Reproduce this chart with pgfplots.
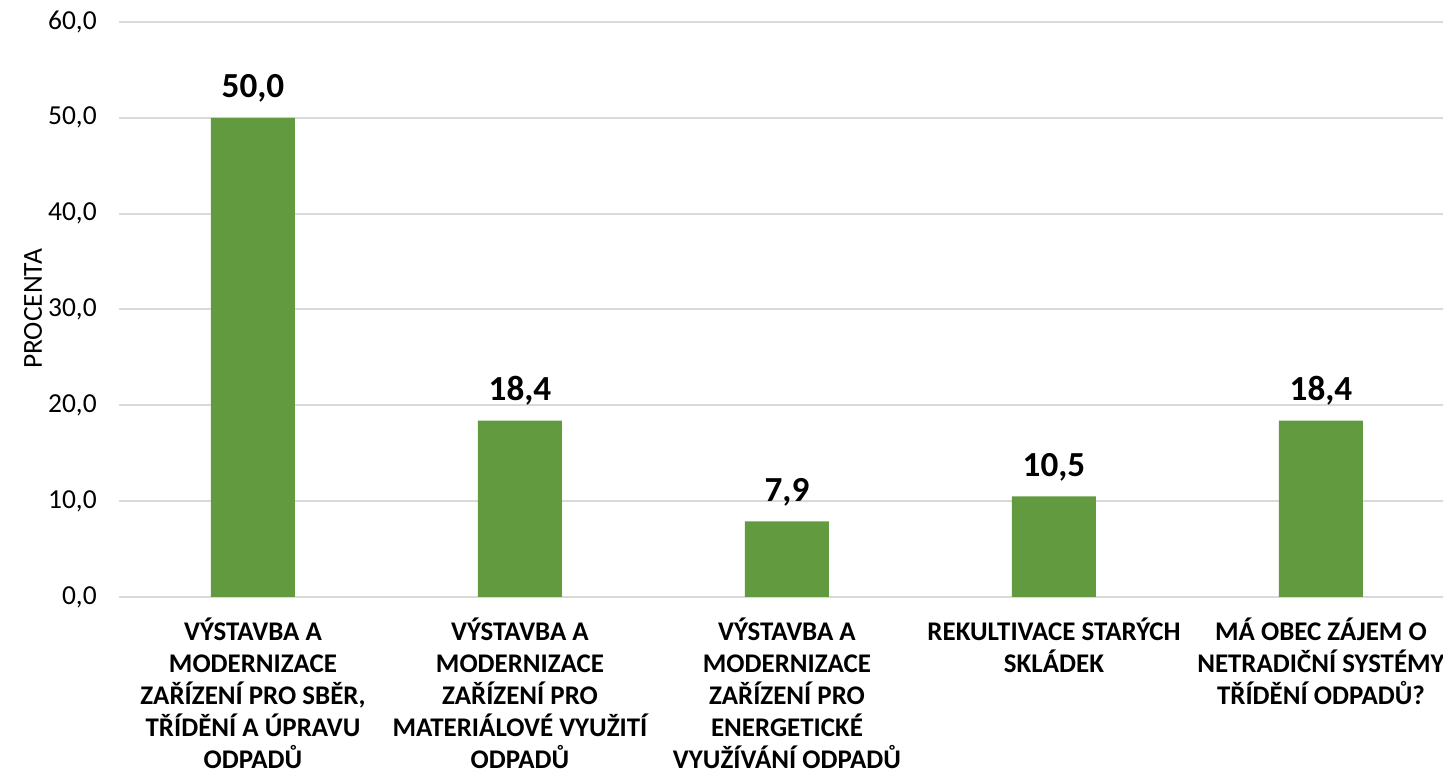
\documentclass[border=0pt]{standalone}
\usepackage{fontspec}
\setmainfont{Carlito}
\usepackage{pgfplots}
\pgfplotsset{compat=1.18}
\definecolor{barc}{RGB}{98,154,64}
\definecolor{gridc}{RGB}{217,217,217}
\begin{document}
\begin{tikzpicture}[x=0.75pt,y=0.75pt]
\begin{axis}[
  at={(89.625pt,135.75pt)}, anchor=south west,
  scale only axis, width=1001.25pt, height=431.25pt,
  xmin=-0.5, xmax=4.5, ymin=0, ymax=60,
  ytick={0,10,...,60},
  xtick={0,1,2,3,4},
  xticklabels={
    {VÝSTAVBA A\\MODERNIZACE\\ZAŘÍZENÍ PRO SBĚR,\\TŘÍDĚNÍ A ÚPRAVU\\ODPADŮ},
    {VÝSTAVBA A\\MODERNIZACE\\ZAŘÍZENÍ PRO\\MATERIÁLOVÉ VYUŽITÍ\\ODPADŮ},
    {VÝSTAVBA A\\MODERNIZACE\\ZAŘÍZENÍ PRO\\ENERGETICKÉ\\VYUŽÍVÁNÍ ODPADŮ},
    {REKULTIVACE STARÝCH\\SKLÁDEK},
    {MÁ OBEC ZÁJEM O\\NETRADIČNÍ SYSTÉMY\\TŘÍDĚNÍ ODPADŮ?}},
  axis line style={draw=none},
  major tick length=0pt,
  ymajorgrids, grid style={gridc, line width=1.5pt},
  /pgf/number format/.cd, fixed, fixed zerofill, precision=1, use comma, assume math mode=true,
  /pgfplots/.cd,
  yticklabel style={anchor=east, inner sep=0pt, xshift=-16.9pt, font=\fontsize{20.6pt}{24pt}\selectfont},
  xticklabel style={anchor=north, inner sep=0pt, yshift=-15.5pt, align=center,
    font=\bfseries\fontsize{20.2pt}{24pt}\selectfont},
  clip=false,
]
\addplot[ybar, fill=barc, draw=none, bar width=63pt,
  nodes near coords,
  every node near coord/.append style={anchor=base, inner sep=0pt, yshift=15pt,
    font=\bfseries\fontsize{26.4pt}{30pt}\selectfont, text=black}]
  coordinates {(0,50.0) (1,18.4) (2,7.9) (3,10.5) (4,18.4)};
\end{axis}
\node[rotate=90, inner sep=0pt, font=\fontsize{20.6pt}{24pt}\selectfont] at (33,469) {PROCENTA};
\pgfresetboundingbox
\path[use as bounding box] (0,0) rectangle (1443,778);
\end{tikzpicture}
\end{document}
